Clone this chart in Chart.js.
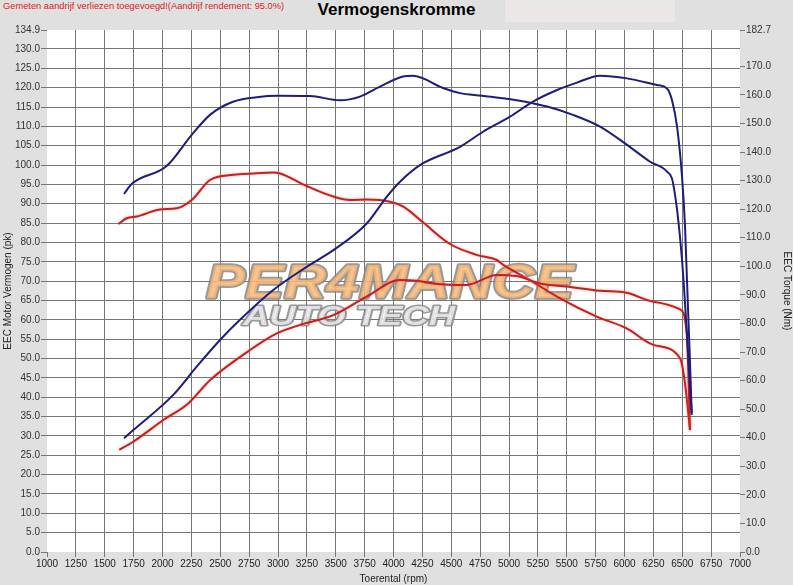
<!DOCTYPE html>
<html><head><meta charset="utf-8">
<script src="https://cdn.jsdelivr.net/npm/chart.js@4"></script>
<style>
html,body{margin:0;padding:0;background:#e0e0e0;}
#wrap{position:relative;width:793px;height:585px;overflow:hidden;}
#box{position:absolute;left:505px;top:0;width:170px;height:22px;background:#ebe7e7;}
#note{position:absolute;left:3px;top:1px;font:9.3px "Liberation Sans",Arial,sans-serif;color:#e02020;white-space:nowrap;}
#title{position:absolute;left:0;top:0;width:793px;text-align:center;font:bold 17px "Liberation Sans",Arial,sans-serif;color:#000;}
canvas{position:absolute;left:0;top:0;}
</style></head>
<body><div id="wrap">
<div id="box"></div>
<div id="note">Gemeten aandrijf verliezen toegevoegd!(Aandrijf rendement: 95.0%)</div>
<div id="title">Vermogenskromme</div>
<canvas id="c" width="793" height="585"></canvas>
</div>
<script>
// ---- data ----
const xTicks = [1000,1250,1500,1750,2000,2250,2500,2750,3000,3250,3500,3750,4000,4250,4500,4750,5000,5250,5500,5750,6000,6250,6500,6750,7000];
const leftTicks = [0,5,10,15,20,25,30,35,40,45,50,55,60,65,70,75,80,85,90,95,100,105,110,115,120,125,130,134.9];
const rightTicks = [0,10,20,30,40,50,60,70,80,90,100,110,120,130,140,150,160,170,182.7];

// blue: EEC motor power (pk, left axis)
const bluePowerRpm = [1667,1747,2093,2296,2498,2671,2959,3249,3479,3768,3941,4056,4229,4576,4775,5009,5208,5416,5589,5788,6022,6281,6368,6411,6455,6498,6524,6582];
const bluePowerPk  = [29.4,31.5,40.6,47.9,54.8,60.0,67.7,73.7,78.0,84.9,91.8,95.7,100.0,104.7,108.6,112.5,116.4,119.4,121.3,123.1,122.4,120.7,119.8,116.8,109.9,97.0,84.1,35.9];
// blue: EEC torque (Nm, right axis)
const blueTorqueRpm = [1667,1733,2036,2253,2411,2610,2816,3000,3277,3537,3710,3883,4082,4169,4429,4576,4766,5052,5329,5554,5788,6022,6221,6368,6420,6498,6582];
const blueTorqueNm  = [125.3,128.8,135.1,146.0,153.0,157.6,159.2,159.7,159.6,158.1,159.4,162.9,166.4,166.7,162.4,160.6,159.7,158.2,155.9,153.0,148.9,142.5,136.6,133.1,129.2,102.2,48.0];
// red: EEC motor power (pk, left axis)
const redPowerRpm = [1626,1747,2007,2223,2411,2758,2989,3191,3479,3768,4056,4201,4345,4634,4894,5067,5268,5499,5788,6019,6250,6481,6539,6567];
const redPowerPk  = [26.4,28.5,34.1,38.4,44.4,52.2,56.5,58.7,61.2,66.0,70.3,70.1,69.4,69.0,71.6,71.3,69.4,68.6,67.5,67.0,64.7,62.7,56.6,31.5];
// red: EEC torque (Nm, right axis)
const redTorqueRpm = [1617,1690,1777,1978,2123,2253,2411,2613,2786,2959,3017,3249,3479,3623,3768,3970,4085,4258,4489,4720,4894,4951,5154,5442,5759,6019,6250,6481,6524,6567];
const redTorqueNm  = [114.8,116.8,117.4,119.9,120.3,123.2,130.2,132.0,132.5,132.8,132.5,128.1,124.4,123.2,123.4,122.6,120.9,115.3,107.8,104.0,102.2,100.5,95.8,88.8,82.4,78.3,72.5,67.8,59.0,42.7];

const pts = (xs, ys) => xs.map((x, i) => ({x: x, y: ys[i]}));
const BLUE = '#1d1d7e', RED = '#c4201c';
const GRID = '#767676';
const FONT = '"Liberation Sans", Arial, sans-serif';

const bgPlugin = {
  id: 'bg',
  beforeDraw(chart) {
    const {ctx, chartArea: a} = chart;
    ctx.save(); ctx.fillStyle = '#ffffff';
    ctx.fillRect(a.left, a.top, a.right - a.left, a.bottom - a.top);
    ctx.restore();
  },
  beforeDatasetsDraw(chart) {
    const ctx = chart.ctx;
    ctx.save();
    ctx.lineJoin = 'round';
    ctx.translate(206, 298);
    ctx.scale(1.22, 1);
    ctx.font = 'italic bold 48px ' + FONT;
    ctx.lineWidth = 3.5;
    ctx.strokeStyle = 'rgba(135,135,135,0.85)';
    ctx.fillStyle = 'rgba(250,185,120,0.85)';
    ctx.strokeText('PER4MANCE', 0, 0);
    ctx.fillText('PER4MANCE', 0, 0);
    ctx.restore();
    ctx.save();
    ctx.lineJoin = 'round';
    ctx.translate(243, 325);
    ctx.scale(1.35, 1);
    ctx.font = 'italic bold 27px ' + FONT;
    ctx.lineWidth = 3;
    ctx.strokeStyle = 'rgba(135,135,135,0.85)';
    ctx.fillStyle = 'rgba(240,240,240,0.8)';
    ctx.strokeText('AUTO TECH', 0, 0);
    ctx.fillText('AUTO TECH', 0, 0);
    ctx.restore();
  },
  beforeDatasetDraw(chart, args) {
    if (args.meta._dataset.glow) {
      const ctx = chart.ctx;
      ctx.save();
      ctx.shadowColor = 'rgba(255,110,110,0.55)';
      ctx.shadowBlur = 2.5;
    }
  },
  afterDatasetDraw(chart, args) {
    if (args.meta._dataset.glow) chart.ctx.restore();
  }
};

const line = (label, data, color, axis, glow) => ({
  label, data, borderColor: color, backgroundColor: color, yAxisID: axis,
  borderWidth: 2, pointRadius: 0, tension: 0.4, cubicInterpolationMode: 'monotone',
  fill: false, glow: glow
});

new Chart(document.getElementById('c'), {
  type: 'line',
  data: {
    datasets: [
      line('EEC Motor Vermogen (pk)', pts(bluePowerRpm, bluePowerPk), BLUE, 'y', false),
      line('EEC Torque (Nm)', pts(blueTorqueRpm, blueTorqueNm), BLUE, 'y1', false),
      line('EEC Motor Vermogen (pk)', pts(redPowerRpm, redPowerPk), RED, 'y', true),
      line('EEC Torque (Nm)', pts(redTorqueRpm, redTorqueNm), RED, 'y1', true)
    ]
  },
  options: {
    responsive: false, animation: false, devicePixelRatio: 1,
    layout: {padding: {top: 30, left: 0, right: 0, bottom: 0}},
    plugins: {legend: {display: false}, tooltip: {enabled: false}, title: {display: false}},
    scales: {
      x: {
        type: 'linear', min: 1000, max: 7000,
        afterBuildTicks: s => { s.ticks = xTicks.map(v => ({value: v})); },
        afterFit: s => { s.height = 33; },
        ticks: {autoSkip: false, maxRotation: 0, padding: 1, color: '#222', font: {family: FONT, size: 10}, callback: v => String(v)},
        grid: {color: c => (c.tick && (c.tick.value === 1000 || c.tick.value === 7000)) ? 'rgba(0,0,0,0)' : GRID, tickColor: GRID, tickLength: 5, lineWidth: 1},
        border: {display: false},
        title: {display: true, text: 'Toerental (rpm)', color: '#222', font: {family: FONT, size: 10}, padding: {top: 1, bottom: 0}}
      },
      y: {
        position: 'left', min: 0, max: 134.9,
        afterBuildTicks: s => { s.ticks = leftTicks.map(v => ({value: v})); },
        afterFit: s => { s.width = 47; },
        ticks: {autoSkip: false, padding: 1, color: '#333', font: {family: FONT, size: 10}, callback: v => Number(v).toFixed(1)},
        grid: {color: c => (c.tick && (c.tick.value === 0 || c.tick.value === 134.9)) ? 'rgba(0,0,0,0)' : GRID, tickColor: GRID, tickLength: 6, lineWidth: 1},
        border: {display: false},
        title: {display: true, text: 'EEC Motor Vermogen (pk)', color: '#222', font: {family: FONT, size: 10}, padding: {top: 2, bottom: 0}}
      },
      y1: {
        position: 'right', min: 0, max: 182.7,
        afterBuildTicks: s => { s.ticks = rightTicks.map(v => ({value: v})); },
        afterFit: s => { s.width = 53; },
        ticks: {autoSkip: false, padding: 1, color: '#333', font: {family: FONT, size: 10}, callback: v => Number(v).toFixed(1)},
        grid: {drawOnChartArea: false, color: GRID, tickColor: GRID, tickLength: 5},
        border: {display: false},
        title: {display: true, text: 'EEC Torque (Nm)', color: '#222', font: {family: FONT, size: 10}, padding: {top: 0, bottom: 6}}
      }
    }
  },
  plugins: [bgPlugin]
});
</script>
</body></html>
